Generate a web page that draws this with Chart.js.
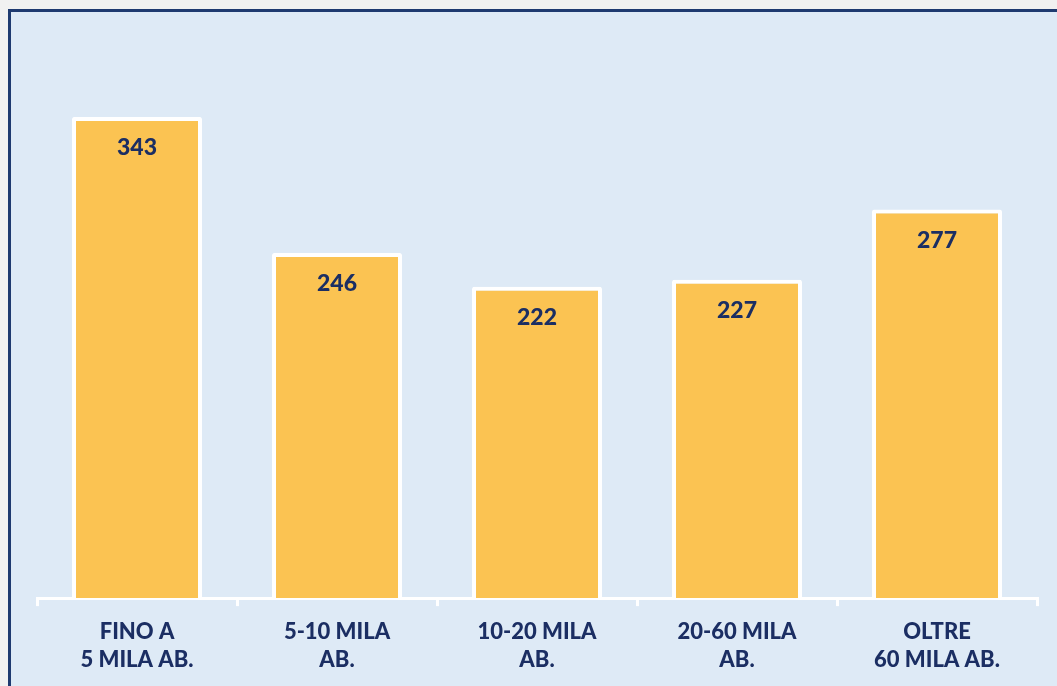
<!DOCTYPE html>
<html>
<head>
<meta charset="utf-8">
<script src="https://cdn.jsdelivr.net/npm/chart.js@4/dist/chart.umd.min.js"></script>
<style>
  html, body { margin: 0; padding: 0; background: #f1f1f1; width: 1057px; height: 686px; overflow: hidden; }
  #frame { position: absolute; left: 8px; top: 9px; width: 1049px; height: 677px; background: #deeaf6;
           border-top: 3px solid #1e3a70; border-left: 3px solid #1e3a70; box-sizing: border-box; }
  #c { position: absolute; left: 0; top: 0; }
</style>
</head>
<body>
<div id="frame"></div>
<canvas id="c" width="1057" height="686"></canvas>
<script>
const categories = [["FINO A", "5 MILA AB."], ["5-10 MILA", "AB."], ["10-20 MILA", "AB."], ["20-60 MILA", "AB."], ["OLTRE", "60 MILA AB."]];
const values = [343, 246, 222, 227, 277];

const NAVY = '#1b2e63';
const FONT = '"Lato", "Noto Sans", sans-serif';

const valueLabels = {
  id: 'valueLabels',
  afterDatasetsDraw(chart) {
    const ctx = chart.ctx;
    const meta = chart.getDatasetMeta(0);
    ctx.save();
    ctx.fillStyle = NAVY;
    ctx.font = '900 23px ' + FONT;
    ctx.textAlign = 'center';
    ctx.textBaseline = 'middle';
    meta.data.forEach((bar, i) => {
      ctx.fillText(String(values[i]), bar.x, bar.y + 31);
    });
    ctx.restore();
  }
};

new Chart(document.getElementById('c'), {
  type: 'bar',
  data: {
    labels: categories,
    datasets: [{
      data: values,
      backgroundColor: '#fbc352',
      borderColor: '#ffffff',
      borderWidth: { top: 4, left: 4, right: 4, bottom: 0 },
      borderSkipped: 'start',
      borderRadius: 2,
      categoryPercentage: 1,
      barPercentage: 0.65
    }]
  },
  options: {
    responsive: false,
    animation: false,
    devicePixelRatio: 1,
    layout: { padding: { left: 37, right: 20, top: 37, bottom: 0 } },
    plugins: { legend: { display: false }, tooltip: { enabled: false } },
    scales: {
      y: { display: false, min: 0, max: 400 },
      x: {
        offset: true,
        border: { display: true, color: '#ffffff', width: 3 },
        grid: { display: true, drawOnChartArea: false, drawTicks: true, tickLength: 8, color: '#ffffff', lineWidth: 3, offset: true },
        ticks: { color: NAVY, font: { family: FONT, size: 22, weight: '900', lineHeight: 1.27 }, padding: 12, maxRotation: 0, autoSkip: false }
      }
    }
  },
  plugins: [valueLabels]
});
</script>
</body>
</html>
